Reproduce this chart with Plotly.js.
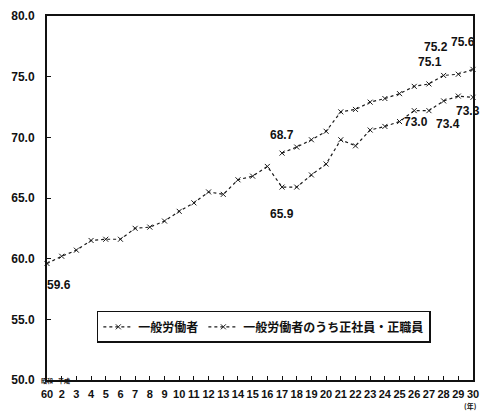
<!DOCTYPE html>
<html><head><meta charset="utf-8">
<script src="https://cdn.plot.ly/plotly-3.0.1.min.js"></script>
<style>html,body{margin:0;padding:0;background:#fff;}#chart{width:480px;height:412px;}</style>
</head><body><div id="chart"></div>
<script>
// x-axis labels: 昭和60, 平成2 … 平成30
const yearLabels = ['60','2','3','4','5','6','7','8','9','10','11','12','13','14','15','16','17','18','19','20','21','22','23','24','25','26','27','28','29','30'];
// 一般労働者
const generalWorkers = [59.6,60.2,60.7,61.5,61.6,61.6,62.5,62.6,63.1,63.9,64.6,65.5,65.3,66.5,66.8,67.6,65.9,65.9,66.9,67.8,69.8,69.3,70.6,70.9,71.3,72.2,72.2,73.0,73.4,73.3];
// 一般労働者のうち正社員・正職員 (平成17年から)
const regularStaff = [null,null,null,null,null,null,null,null,null,null,null,null,null,null,null,null,68.7,69.2,69.8,70.5,72.1,72.3,72.9,73.2,73.6,74.2,74.4,75.1,75.2,75.6];
const seriesNames = ['一般労働者','一般労働者のうち正社員・正職員'];
// value labels: [series, index]
const labelPoints = [
  [0,0,12,21],[1,16,0,-18],[0,16,0,27],
  [1,27,-14,-13],[1,28,-22,-27],[1,29,-10,-27],
  [0,27,-28,21],[0,28,-10,28],[0,29,-5,14]
];

const xs = yearLabels.map((_, i) => i);
const lineStyle = {color:'#1a1a1a', width:1.2, dash:'dot'};
const traces = [
  {x: xs, y: generalWorkers, name: seriesNames[0], type:'scatter', mode:'lines+markers',
   line: lineStyle, marker:{symbol:'x-thin', size:5, line:{width:1, color:'#1a1a1a'}}, cliponaxis:false},
  {x: xs, y: regularStaff, name: seriesNames[1], type:'scatter', mode:'lines+markers',
   line: lineStyle, marker:{symbol:'x-thin', size:5, line:{width:1, color:'#1a1a1a'}}, cliponaxis:false, connectgaps:false}
];
const data = [generalWorkers, regularStaff];
const annFont = {family:'Liberation Sans, Arial, sans-serif', size:12, color:'#111', weight:700};
const annotations = labelPoints.map(([s,i,dx,dy]) => ({
  x: i, y: data[s][i], xref:'x', yref:'y', text: data[s][i].toFixed(1), showarrow:false,
  xshift: dx, yshift: -dy, font: annFont
}));
annotations.push({x:0, y:0, xref:'x', yref:'paper', text:'昭和', showarrow:false, yshift:-7, xshift:0, yanchor:'bottom',
  font:{family:'Noto Sans CJK JP', size:6, color:'#111', weight:700}});
annotations.push({x:1, y:0, xref:'x', yref:'paper', text:'平成', showarrow:false, yshift:-7, xshift:2, yanchor:'bottom',
  font:{family:'Noto Sans CJK JP', size:6, color:'#111', weight:700}});
annotations.push({x:0.974, y:-0.0725, xref:'paper', yref:'paper', text:'(年)', showarrow:false, xanchor:'left', yanchor:'middle',
  font:{family:'Noto Sans CJK JP', size:7, color:'#111', weight:700}});

const layout = {
  width:480, height:412,
  margin:{l:47, r:7, t:16, b:32},
  paper_bgcolor:'#fff', plot_bgcolor:'#fff',
  showlegend:true,
  legend:{orientation:'h', x:0.117, y:0.19, xanchor:'left', yanchor:'top',
    bordercolor:'#111', borderwidth:1.5, bgcolor:'#fff',
    font:{family:'Noto Sans CJK JP', size:12, color:'#111', weight:700},
    itemwidth:30, tracegroupgap:0},
  xaxis:{range:[0,29], tickvals:xs, ticktext:yearLabels, showgrid:false, zeroline:false,
    showline:true, linecolor:'#111', linewidth:2, mirror:true,
    ticks:'inside', ticklen:4, tickcolor:'#111',
    tickfont:{family:'Liberation Sans Narrow, Liberation Sans, sans-serif', size:11, color:'#111', weight:700},
    tickangle:0, ticklabelstandoff:3},
  yaxis:{range:[50,80], dtick:5, tickformat:'.1f', showgrid:false, zeroline:false,
    showline:true, linecolor:'#111', linewidth:2, mirror:true,
    ticks:'inside', ticklen:4, tickcolor:'#111', ticklabelstandoff:8,
    tickfont:{family:'Liberation Sans, Arial, sans-serif', size:12, color:'#111', weight:700}},
  annotations: annotations
};
Plotly.newPlot('chart', traces, layout, {staticPlot:true, displayModeBar:false});
</script></body></html>
